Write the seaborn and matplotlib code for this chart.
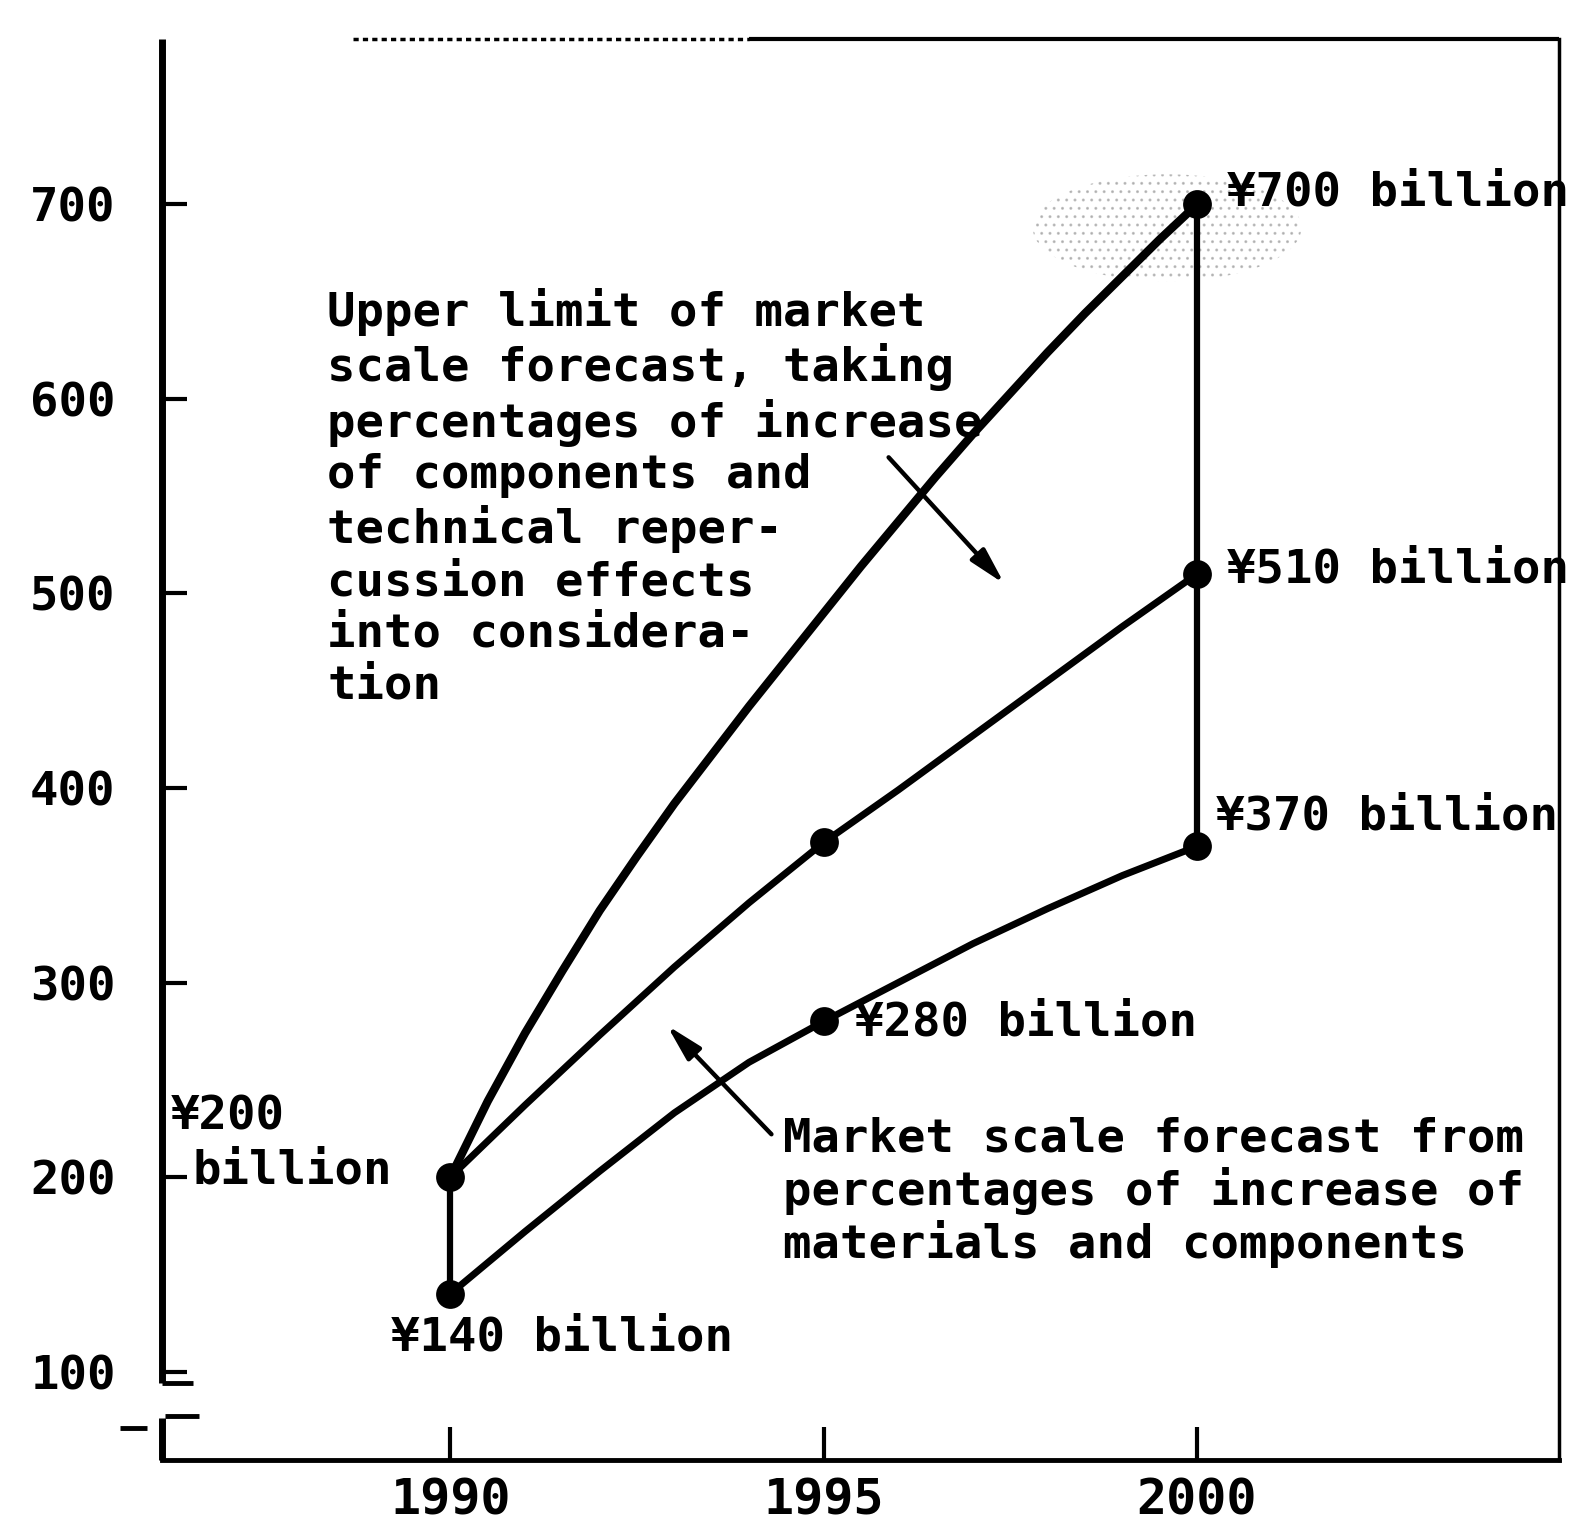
import matplotlib
matplotlib.use("Agg")
import matplotlib.pyplot as plt
import numpy as np
import pandas as pd
import seaborn as sns
from matplotlib.patches import Ellipse

# Market scale forecast, billions of yen
upper_years = [1990, 1990.5, 1991, 1991.5, 1992, 1992.5, 1993, 1993.5, 1994,
               1994.5, 1995, 1995.5, 1996, 1996.5, 1997, 1997.5, 1998, 1998.5,
               1999, 1999.5, 2000]
upper_limit = [200, 239, 274, 306, 337, 365, 392, 417, 442, 466, 490, 514,
               537, 560, 582, 603, 624, 644, 663, 682, 700]

years = [1990, 1991, 1992, 1993, 1994, 1995, 1996, 1997, 1998, 1999, 2000]
with_effects = [200, 237, 273, 308, 341, 372, 399, 427, 455, 483, 510]
materials = [140, 172, 203, 233, 259, 280, 300, 320, 338, 355, 370]

marked_years = [1990, 1995, 2000]
xtick_labels = ["1990", "1995", "2000"]
ytick_values = [100, 200, 300, 400, 500, 600, 700]
ytick_labels = ["100", "200", "300", "400", "500", "600", "700"]

upper_note = ("Upper limit of market\nscale forecast, taking\n"
              "percentages of increase\nof components and\n"
              "technical reper-\ncussion effects\ninto considera-\ntion")
lower_note = ("Market scale forecast from\npercentages of increase of\n"
              "materials and components")

sns.set_style("white")
plt.rcParams["font.family"] = ["DejaVu Sans Mono", "DejaVu Sans"]
plt.rcParams["font.weight"] = "bold"
for key in ("text.color", "axes.labelcolor", "xtick.color", "ytick.color"):
    plt.rcParams[key] = "black"

up = pd.DataFrame({"year": upper_years, "v": upper_limit})
df = pd.DataFrame({"year": years, "middle": with_effects, "lower": materials})

fig = plt.figure(figsize=(15.85, 15.40), dpi=100)
ax = fig.add_axes([0.1019, 0.0519, 0.8817, 0.9227])
x0, x1 = 1986.13, 2004.85
y0, y1 = 54.5, 785
ax.set_xlim(x0, x1)
ax.set_ylim(y0, y1)

# speckled haze around the top point
ax.add_patch(Ellipse((1999.6, 688), width=3.6, height=55, fill=False,
                     hatch="..", edgecolor="0.6", lw=0, alpha=0.55, zorder=1))

# forecast curves
line_kw = dict(ax=ax, color="black", estimator=None, sort=False, zorder=3,
               solid_joinstyle="round", solid_capstyle="round")
sns.lineplot(data=up, x="year", y="v", lw=6, **line_kw)
sns.lineplot(data=df, x="year", y="middle", lw=5, **line_kw)
sns.lineplot(data=df, x="year", y="lower", lw=5, **line_kw)

# range connectors at the start and end years
ax.plot([years[0], years[0]], [materials[0], upper_limit[0]],
        color="black", lw=4.5, zorder=3)
ax.plot([years[-1], years[-1]], [materials[-1], upper_limit[-1]],
        color="black", lw=4.5, zorder=3)

# marked points
pts = df[df.year.isin(marked_years)]
ends = up[up.year.isin([marked_years[0], marked_years[-1]])]
mk = pd.concat([
    ends,
    pts[["year", "middle"]].rename(columns={"middle": "v"}).iloc[[1, 2]],
    pts[["year", "lower"]].rename(columns={"lower": "v"}),
])
sns.scatterplot(data=mk, x="year", y="v", ax=ax, color="black", s=430,
                edgecolor="black", linewidth=0, zorder=4, legend=False)

# value labels
tkw = dict(fontsize=34, fontweight="bold", color="black", va="center",
           ha="left", zorder=5)
ax.text(2000.40, 706, f"¥{upper_limit[-1]} billion", clip_on=False, **tkw)
ax.text(2000.40, 512, f"¥{with_effects[-1]} billion", **tkw)
ax.text(2000.25, 385, f"¥{materials[-1]} billion", **tkw)
ax.text(1995.42, 279, f"¥{materials[5]} billion", **tkw)
ax.text(1989.20, 117, f"¥{materials[0]} billion", **tkw)
ax.text(1986.25, 231, f"¥{upper_limit[0]}", **tkw)
ax.text(1986.55, 203, "billion", **tkw)

# notes with pointer arrows
ax.text(1988.35, 657, upper_note, fontsize=34, fontweight="bold",
        color="black", va="top", ha="left", linespacing=1.19, zorder=5)
ax.text(1994.45, 231, lower_note, fontsize=34, fontweight="bold",
        color="black", va="top", ha="left", linespacing=1.14, zorder=5)
akw = dict(arrowstyle="-|>,head_length=1.1,head_width=0.28", lw=3.2,
           color="black", mutation_scale=20, shrinkA=0, shrinkB=0)
ax.annotate("", xy=(1997.42, 505), xytext=(1995.87, 570), arrowprops=akw)
ax.annotate("", xy=(1992.9, 278), xytext=(1994.3, 222), arrowprops=akw)

# ticks
ax.set_xticks(marked_years)
ax.set_xticklabels(xtick_labels)
ax.set_yticks(ytick_values)
ax.set_yticklabels(ytick_labels)
ax.tick_params(axis="x", direction="in", length=24, width=3, pad=12,
               labelsize=36, bottom=True, colors="black")
ax.tick_params(axis="y", direction="in", length=18, width=3, pad=33,
               labelsize=34, left=True, colors="black")
for lab in ax.get_xticklabels() + ax.get_yticklabels():
    lab.set_fontweight("bold")
ax.set_xlabel("")
ax.set_ylabel("")

# frame: broken left axis, partly dotted top edge
for side in ("left", "top"):
    ax.spines[side].set_visible(False)
ax.spines["bottom"].set_linewidth(3.5)
ax.spines["right"].set_linewidth(2.5)
ax.spines["bottom"].set_color("black")
ax.spines["right"].set_color("black")

lkw = dict(color="black", clip_on=False, solid_capstyle="butt", zorder=6)
ax.plot([x0, x0], [94, y1], lw=5, **lkw)
ax.plot([x0, x0], [y0, 76], lw=5, **lkw)
ax.plot([x0, x0 + 0.42], [94, 94], lw=3.5, **lkw)
ax.plot([x0 + 0.05, x0 + 0.5], [77, 77], lw=3.5, **lkw)
ax.plot([x0 - 0.55, x0 - 0.2], [71, 71], lw=3.5, **lkw)
ax.plot([1988.7, 1994.0], [y1, y1], lw=2.5, ls=(0, (1.5, 1.2)), **lkw)
ax.plot([1994.0, x1], [y1, y1], lw=3, **lkw)

fig.savefig("out.png", dpi=100, facecolor="white")
